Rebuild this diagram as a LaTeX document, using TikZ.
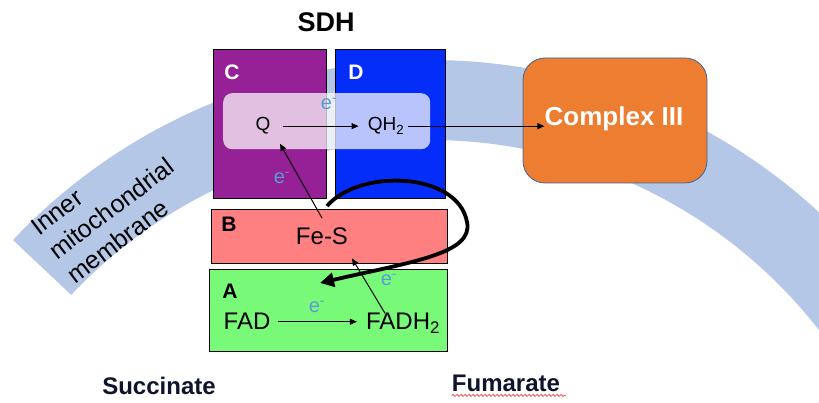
\documentclass[tikz,border=0pt]{standalone}
\usepackage{fontspec}
\setmainfont{Liberation Sans}
\usetikzlibrary{arrows.meta,decorations.pathmorphing,calc}
\definecolor{membr}{RGB}{180,199,231}
\definecolor{purp}{RGB}{150,32,150}
\definecolor{blu}{RGB}{5,45,250}
\definecolor{salm}{RGB}{255,128,128}
\definecolor{grn}{RGB}{120,250,120}
\definecolor{orng}{RGB}{237,125,49}
\definecolor{orbd}{RGB}{65,100,150}
\definecolor{eblue}{RGB}{91,155,213}
\definecolor{navy}{RGB}{15,20,45}
\begin{document}
\begin{tikzpicture}[x=1pt,y=-1pt,
  box/.style={draw=black, line width=1.3pt, anchor=north west, inner sep=0pt},
  txt/.style={inner sep=0pt, anchor=base, font=\fontsize{24}{28}\selectfont},
  qtxt/.style={inner sep=0pt, anchor=base, font=\fontsize{19}{22}\selectfont},
  boxlbl/.style={inner sep=0pt, font=\bfseries\fontsize{21}{24}\selectfont},
  elbl/.style={inner sep=0pt, text=eblue, font=\fontsize{20}{24}\selectfont},
  thin arrow/.style={line width=1pt, -{Triangle[length=7pt,width=6pt]}},
  subst/.style={inner sep=0pt, anchor=base, text=navy, font=\bfseries\fontsize{24}{28}\selectfont}]
\useasboundingbox (0,0) rectangle (819,403);
% membrane band
\begin{scope}
  \clip (0,0) rectangle (819,403);
  \begin{scope}[y=1pt]
    \fill[membr] (430,-633) ++(136.7:573) arc[start angle=136.7,end angle=25,radius=573]
      -- ++(205:80) arc[start angle=25,end angle=136.7,radius=493] -- cycle;
  \end{scope}
\end{scope}
\node[inner sep=0pt, rotate=37, align=left, font=\fontsize{25}{30}\selectfont] (memlbl) at (111.5,208.6) {Inner\\mitochondrial\\membrane};
% title
\node[inner sep=0pt, font=\bfseries\fontsize{27}{30}\selectfont] (sdh) at (326,22) {SDH};
% subunits C and D
\node[box, fill=purp, minimum width=113, minimum height=149] (boxC) at (213,49) {};
\node[box, fill=blu, minimum width=110, minimum height=149] (boxD) at (335,49) {};
\node[boxlbl, text=white] (lblC) at (232,72) {C};
\node[boxlbl, text=white] (lblD) at (356,72) {D};
% quinone pool box
\node[anchor=north west, fill=white, fill opacity=0.72, rounded corners=9pt, minimum width=207, minimum height=56, inner sep=0pt] (qbox) at (223,93) {};
\node[qtxt] (Q) at (263,131) {Q};
\node[qtxt] (QH2) at (386,131) {QH\textsubscript{2}};
\node[elbl] (e1) at (329,104) {e\textsuperscript{-}};
\node[elbl] (e2) at (282,178) {e\textsuperscript{-}};
% subunits B and A
\node[box, fill=salm, minimum width=236, minimum height=54] (boxB) at (211,209) {};
\node[box, fill=grn, minimum width=238, minimum height=82] (boxA) at (209,269) {};
\node[boxlbl] (lblB) at (229,224) {B};
\node[boxlbl] (lblA) at (230,291) {A};
\node[txt] (feS) at (322,245) {Fe-S};
\node[txt] (fad) at (247,330) {FAD};
\node[txt] (fadh) at (403,330) {FADH\textsubscript{2}};
\node[elbl] (e3) at (317,307) {e\textsuperscript{-}};
\node[elbl] (e4) at (389,280) {e\textsuperscript{-}};
% complex III
\node[draw=orbd, line width=0.8pt, fill=orng, rounded corners=22pt, minimum width=184, minimum height=125, inner sep=0pt] (c3) at (615,120.5) {};
\node[inner sep=0pt, text=white, font=\bfseries\fontsize{26}{30}\selectfont] (c3t) at (614,119) {Complex III};
% connectors
\draw[thin arrow, shorten <=12pt, shorten >=9pt] (Q.east) -- (Q.east -| QH2.west);
\draw[thin arrow, shorten <=4pt] (QH2.east) -- (QH2.east -| c3t.west);
\draw[thin arrow] ([yshift=10pt]feS.north) -- ([xshift=17pt,yshift=-9pt]Q.south);
\draw[thin arrow] ([xshift=-18pt]fadh.north) -- ([xshift=30pt,yshift=-13pt]feS.south);
\draw[thin arrow, shorten <=7pt, shorten >=9pt] (fad.east) -- (fad.east -| fadh.west);
% recycling loop
\coordinate (loopS) at (327,206);
\coordinate (loopE) at (320,283);
\draw[line width=3.8pt, -{Triangle[length=14pt,width=14pt]}] (loopS) .. controls (360,168) and (458,172) .. (467,222)
  .. controls (474,254) and (410,262) .. (loopE);
% substrates
\node[subst] (succ) at (159,394) {Succinate};
\node[subst] (fum) at (506,391) {Fumarate};
\draw[red!85!white, line width=0.6pt, decorate, decoration={snake, amplitude=1pt, segment length=4pt}] ([yshift=-4pt]fum.south west) -- ([yshift=-4pt,xshift=6pt]fum.south east);
\end{tikzpicture}
\end{document}
